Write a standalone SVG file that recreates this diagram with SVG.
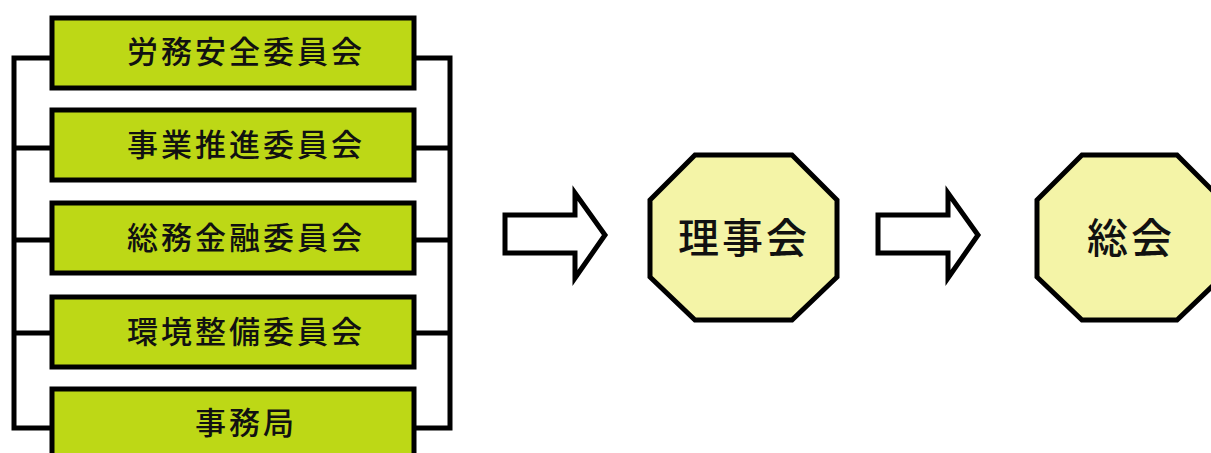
<svg xmlns="http://www.w3.org/2000/svg" width="1211" height="453" viewBox="0 0 1211 453">
<style>
.box{fill:#BDD816;stroke:#000;stroke-width:5}
.oct{fill:#F4F4A7;stroke:#000;stroke-width:5}
.arr{fill:#fff;stroke:#000;stroke-width:5;stroke-linejoin:miter}
.line{fill:none;stroke:#000;stroke-width:5}
.bt{font-family:"Noto Sans CJK JP","Noto Sans CJK SC",sans-serif;font-size:31px;font-weight:500;letter-spacing:3px;text-anchor:middle;fill:#111}
.ot{font-family:"Noto Sans CJK JP","Noto Sans CJK SC",sans-serif;font-size:41px;font-weight:500;letter-spacing:3px;text-anchor:middle;fill:#111}
</style>
<rect width="1211" height="453" fill="#fff"/>
<g id="connectors">
<path class="line" d="M50 58H14V428H50M14 148H50M14 240H50M14 333H50"/>
<path class="line" d="M416 58H450V428H416M416 148H450M416 240H450M416 333H450"/>
<path class="arr" d="M505 215H575V193L605 235L575 278V253H505Z"/>
<path class="arr" d="M878 215H948V193L978 235L948 278V253H878Z"/>
</g>
<g id="n1"><rect class="box" x="52" y="18" width="362" height="70"/><text class="bt" x="246" y="63">労務安全委員会</text></g>
<g id="n2"><rect class="box" x="52" y="110" width="362" height="70"/><text class="bt" x="246" y="156">事業推進委員会</text></g>
<g id="n3"><rect class="box" x="52" y="203" width="362" height="70"/><text class="bt" x="246" y="249">総務金融委員会</text></g>
<g id="n4"><rect class="box" x="52" y="297" width="362" height="70"/><text class="bt" x="246" y="343">環境整備委員会</text></g>
<g id="n5"><rect class="box" x="52" y="389" width="362" height="75"/><text class="bt" x="246" y="434">事務局</text></g>
<g id="n6"><polygon class="oct" points="695,155 792,155 837,200 837,277 792,320 695,320 650,277 650,200"/><text class="ot" x="744" y="253">理事会</text></g>
<g id="n7"><polygon class="oct" points="1082,155 1177,155 1222,200 1222,277 1177,320 1082,320 1037,277 1037,200"/><text class="ot" x="1131" y="253">総会</text></g>
</svg>
